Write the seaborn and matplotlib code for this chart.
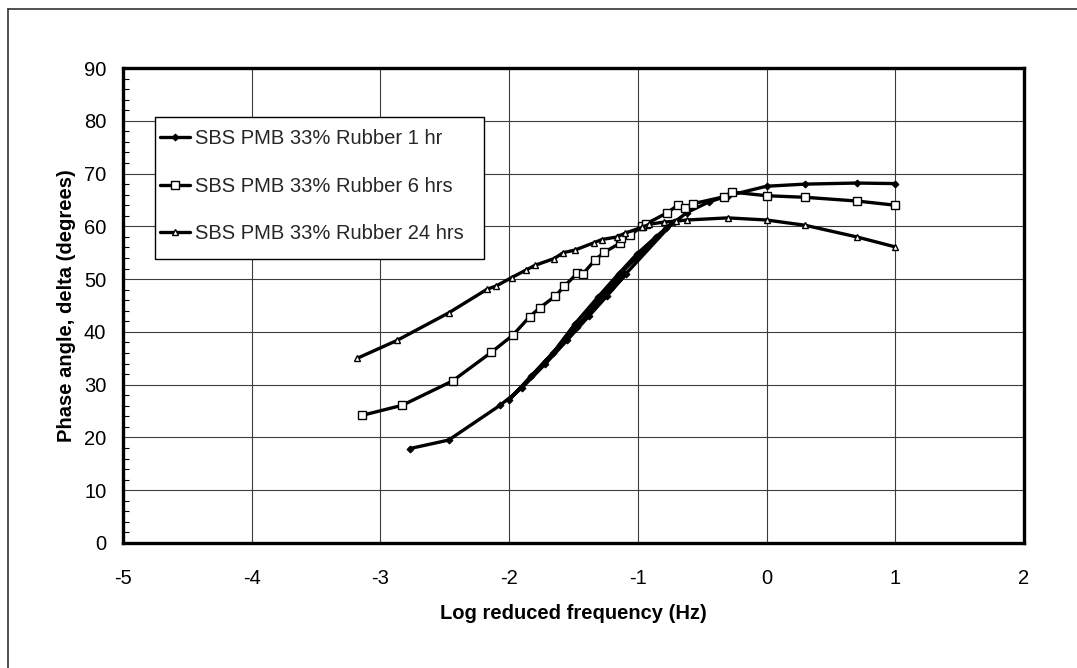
import matplotlib
matplotlib.use("Agg")
import matplotlib.pyplot as plt
from matplotlib.lines import Line2D
from matplotlib.patches import Rectangle
from matplotlib.ticker import MultipleLocator
import numpy as np
import pandas as pd
import seaborn as sns

# Phase angle master curves (log reduced frequency vs. phase angle)
series_names = [
    "SBS PMB 33% Rubber 1 hr",
    "SBS PMB 33% Rubber 6 hrs",
    "SBS PMB 33% Rubber 24 hrs",
]

# 1 hr: overlapping temperature sweeps joined in measurement order
x_1hr = [-2.77, -2.47, -2.07, -1.90, -1.72, -1.55, -1.38, -1.24, -1.09,
         -2.00, -1.83, -1.66, -1.49, -1.31, -1.15, -1.01, -0.86, -0.72,
         -1.47, -1.30, -1.12, -0.95, -0.78, -0.62, -0.45, -0.30, 0.00, 0.30, 0.70, 1.00]
y_1hr = [17.9, 19.5, 26.1, 29.4, 33.9, 38.4, 43.0, 46.8, 51.0,
         27.1, 31.6, 36.0, 41.5, 46.6, 51.0, 54.7, 58.0, 60.9,
         41.0, 46.0, 51.4, 55.6, 59.6, 62.6, 64.6, 65.8, 67.6, 68.0, 68.2, 68.1]

x_6hr = [-3.14, -2.83, -2.44, -2.14, -1.97, -1.84, -1.76, -1.64, -1.57, -1.47,
         -1.43, -1.33, -1.26, -1.14, -1.13, -1.06, -0.97, -0.94, -0.77, -0.69,
         -0.63, -0.57, -0.33, -0.27, 0.00, 0.30, 0.70, 1.00]
y_6hr = [24.2, 26.1, 30.7, 36.1, 39.4, 42.9, 44.6, 46.8, 48.7, 51.1,
         50.9, 53.7, 55.1, 56.8, 57.7, 58.3, 60.0, 60.4, 62.6, 64.0,
         63.5, 64.3, 65.6, 66.5, 65.8, 65.5, 64.8, 64.0]

x_24hr = [-3.18, -2.87, -2.47, -2.17, -2.10, -1.98, -1.87, -1.80, -1.65, -1.58,
          -1.49, -1.34, -1.28, -1.16, -1.10, -0.97, -0.91, -0.80, -0.70, -0.62,
          -0.30, 0.00, 0.30, 0.70, 1.00]
y_24hr = [35.0, 38.4, 43.6, 48.1, 48.7, 50.3, 51.7, 52.6, 53.9, 55.0,
          55.5, 56.9, 57.5, 58.0, 58.7, 59.8, 60.4, 60.8, 61.0, 61.2,
          61.6, 61.2, 60.2, 58.0, 56.1]

x_ticks = [-5, -4, -3, -2, -1, 0, 1, 2]
y_ticks = [0, 10, 20, 30, 40, 50, 60, 70, 80, 90]

frames = []
for name, xs, ys in zip(series_names, [x_1hr, x_6hr, x_24hr], [y_1hr, y_6hr, y_24hr]):
    frames.append(pd.DataFrame({"series": name, "logf": xs, "delta": ys,
                                "order": np.arange(len(xs))}))
df = pd.concat(frames, ignore_index=True)

sns.set_style("white")
plt.rcParams["font.family"] = ["Liberation Sans", "DejaVu Sans"]

fig = plt.figure(figsize=(10.77, 6.68), dpi=100)
ax = fig.add_axes([123 / 1077, 1 - 543 / 668, 901 / 1077, 475 / 668])

marker_styles = {
    series_names[0]: dict(marker="D", markersize=3.5, markerfacecolor="black",
                          markeredgecolor="black"),
    series_names[1]: dict(marker="s", markersize=6, markerfacecolor="white",
                          markeredgecolor="black", markeredgewidth=1.0),
    series_names[2]: dict(marker="^", markersize=5, markerfacecolor="white",
                          markeredgecolor="black", markeredgewidth=1.0),
}

for name in series_names:
    sub = df[df["series"] == name].sort_values("order")
    sns.lineplot(data=sub, x="logf", y="delta", sort=False, estimator=None,
                 color="black", linewidth=2.4, ax=ax, label=name,
                 **marker_styles[name])

ax.set_xlim(-5, 2)
ax.set_ylim(0, 90)
ax.set_xticks(x_ticks)
ax.set_yticks(y_ticks)
ax.set_xticklabels([str(t) for t in x_ticks])
ax.set_yticklabels([str(t) for t in y_ticks])
ax.yaxis.set_minor_locator(MultipleLocator(2))

ax.grid(True, which="major", color="#3c3c3c", linewidth=0.8)
ax.set_axisbelow(True)
for sp in ax.spines.values():
    sp.set_visible(True)
    sp.set_color("black")
    sp.set_linewidth(2.4)

ax.tick_params(axis="both", which="major", direction="out", length=5, width=1,
               color="black", labelsize=14.5, labelcolor="black")
ax.tick_params(axis="x", which="major", pad=14)
ax.tick_params(axis="y", which="major", pad=7)
ax.tick_params(axis="y", which="minor", direction="in", length=4, width=0.8,
               color="black", left=True)

ax.set_xlabel("Log reduced frequency (Hz)", fontsize=14.5, fontweight="bold",
              labelpad=11, color="black")
ax.set_ylabel("Phase angle, delta (degrees)", fontsize=14.5, fontweight="bold",
              labelpad=6, color="black")

# legend box (drawn separately so its padding can differ per side)
ax.add_patch(Rectangle((32 / 901, 284 / 475), 329 / 901, 142 / 475,
                       transform=ax.transAxes, facecolor="white",
                       edgecolor="black", linewidth=1.0, zorder=4))
leg = ax.legend(loc="upper left", bbox_to_anchor=(37 / 901, 414 / 475),
                borderaxespad=0, frameon=False, fontsize=14.5,
                handlelength=1.5, handletextpad=0.25, labelspacing=1.42,
                borderpad=0.0, markerscale=1.0)
leg.set_zorder(5)

# scanned page frame along the top and left edges
fig.add_artist(Line2D([8 / 1077, 8 / 1077], [0, 1 - 9 / 668],
                      transform=fig.transFigure, color="#333333", linewidth=1.2))
fig.add_artist(Line2D([8 / 1077, 1], [1 - 9 / 668, 1 - 9 / 668],
                      transform=fig.transFigure, color="#333333", linewidth=1.2))

fig.savefig("out.png", dpi=100, facecolor="white")
